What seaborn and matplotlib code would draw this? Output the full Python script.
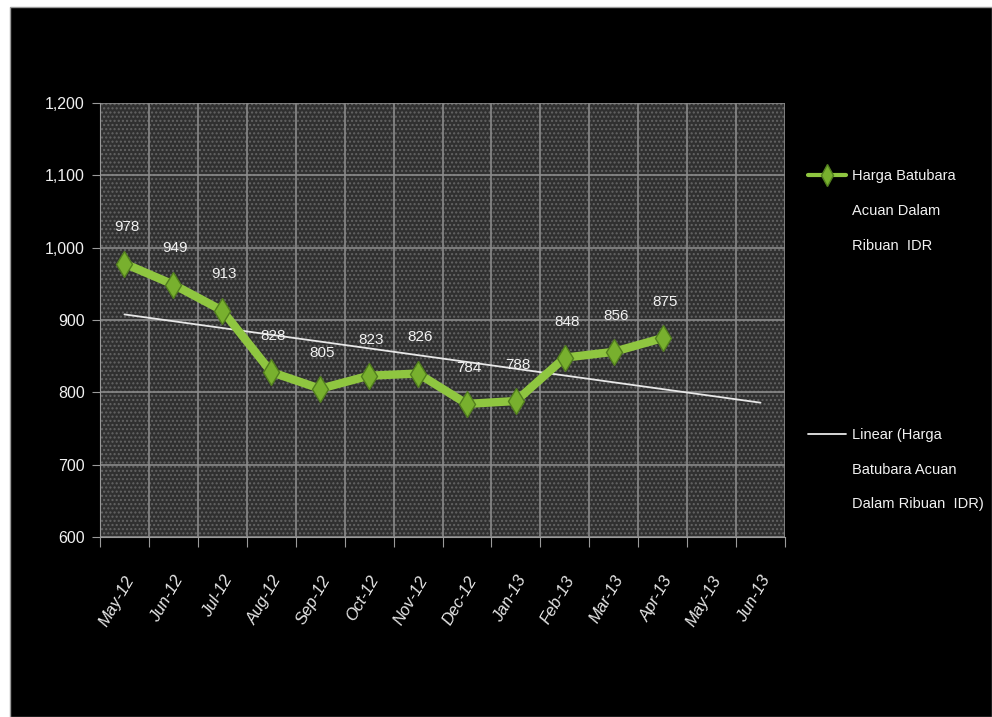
import numpy as np
import pandas as pd
import matplotlib
matplotlib.use("Agg")
import matplotlib.pyplot as plt
import seaborn as sns
from matplotlib.patches import Rectangle
from matplotlib.lines import Line2D
from matplotlib.legend_handler import HandlerLine2D

months = ["May-12", "Jun-12", "Jul-12", "Aug-12", "Sep-12", "Oct-12", "Nov-12",
          "Dec-12", "Jan-13", "Feb-13", "Mar-13", "Apr-13", "May-13", "Jun-13"]
prices = [978, 949, 913, 828, 805, 823, 826, 784, 788, 848, 856, 875]
series_label = "Harga Batubara\nAcuan Dalam\nRibuan  IDR"
trend_label = "Linear (Harga\nBatubara Acuan\nDalam Ribuan  IDR)"
y_ticks = [600, 700, 800, 900, 1000, 1100, 1200]

sns.set_style("dark")
plt.rcParams['font.family'] = ['Liberation Sans', 'DejaVu Sans']


class UpHandler(HandlerLine2D):
    """Line handle placed at the first line of a multi-line label."""
    def __init__(self, dy, **kw):
        super().__init__(**kw)
        self.dy = dy

    def create_artists(self, legend, orig_handle, xdescent, ydescent, width,
                       height, fontsize, trans):
        arts = super().create_artists(legend, orig_handle, xdescent, ydescent,
                                      width, height, fontsize, trans)
        for a in arts:
            a.set_ydata(np.asarray(a.get_ydata()) + self.dy)
        return arts


fig = plt.figure(figsize=(9.92, 7.17), dpi=100)
fig.patch.set_facecolor("white")
fig.patches.append(Rectangle((10/992, 0), 1 - 10/992, 1 - 7/717, transform=fig.transFigure,
                             facecolor="black", edgecolor="#9a9a9a", linewidth=1.0, zorder=-5))

ax = fig.add_axes([100/992, 1 - 537/717, 685/992, 434/717])
ax.set_zorder(2)
ax.set_facecolor("#303030")
ax.add_patch(Rectangle((0, 0), 1, 1, transform=ax.transAxes, facecolor="#303030",
                       edgecolor="#646464", linewidth=0, hatch="....", zorder=0))

df = pd.DataFrame({"idx": np.arange(len(prices)), "price": prices})
sns.lineplot(data=df, x="idx", y="price", ax=ax, color="#8fc640", linewidth=6,
             marker="d", markersize=13, markerfacecolor="#78b02e",
             markeredgecolor="#527f1e", markeredgewidth=1.0, zorder=4)

coef = np.polyfit(np.arange(len(prices)), prices, 1)
tx = np.arange(len(months))
ax.plot(tx, np.polyval(coef, tx), color="#e8e8e8", linewidth=1.3, zorder=3)

for i, v in enumerate(prices):
    ax.annotate(f"{v}", (i, v), xytext=(1.5, 26), textcoords="offset points",
                ha="center", va="center", color="#f2f2f2", fontsize=11, zorder=5)

ax.set_xlim(-0.5, len(months) - 0.5)
ax.set_ylim(600, 1200)
ax.set_yticks(y_ticks)
ax.set_yticklabels([f"{t:,}" for t in y_ticks])
ax.set_xticks(np.arange(-0.5, len(months), 1.0))
ax.set_xticklabels([])
ax.set_xticks(np.arange(len(months)), minor=True)
ax.set_xticklabels(months, minor=True, rotation=60, ha="right", rotation_mode="anchor",
                   fontstyle="italic", color="#e6e6e6", fontsize=12)
ax.tick_params(axis="x", which="minor", length=0, pad=26)
ax.tick_params(axis="x", which="major", length=7, color="#9a9a9a", direction="out", bottom=True)
ax.tick_params(axis="y", which="major", length=6, color="#9a9a9a", direction="out",
               labelcolor="#f0f0f0", labelsize=11.5, pad=5, left=True)
ax.grid(True, which="major", axis="both", color="#8a8a8a", linewidth=1.2)
ax.set_axisbelow(True)
for s in ax.spines.values():
    s.set_visible(False)
ax.spines["left"].set_visible(True)
ax.spines["bottom"].set_visible(True)
ax.spines["left"].set_color("#9a9a9a")
ax.spines["bottom"].set_color("#9a9a9a")
ax.set_xlabel("")
ax.set_ylabel("")

h_series = Line2D([], [], color="#8fc640", linewidth=3, marker="d", markersize=11,
                  markerfacecolor="#78b02e", markeredgecolor="#527f1e")
h_trend = Line2D([], [], color="#e8e8e8", linewidth=1.3)
leg = fig.legend([h_series, h_trend], [series_label, trend_label], loc="upper left",
                 bbox_to_anchor=(802/992, 1 - 163/717), frameon=False,
                 fontsize=10.5, labelcolor="#f2f2f2", labelspacing=12.0,
                 handlelength=2.6, handletextpad=0.4, borderaxespad=0,
                 handler_map={h_series: UpHandler(26.0), h_trend: UpHandler(26.0)})
for t in leg.get_texts():
    t.set_linespacing(2.9)

fig.savefig("out.png", dpi=100, facecolor=fig.get_facecolor())
